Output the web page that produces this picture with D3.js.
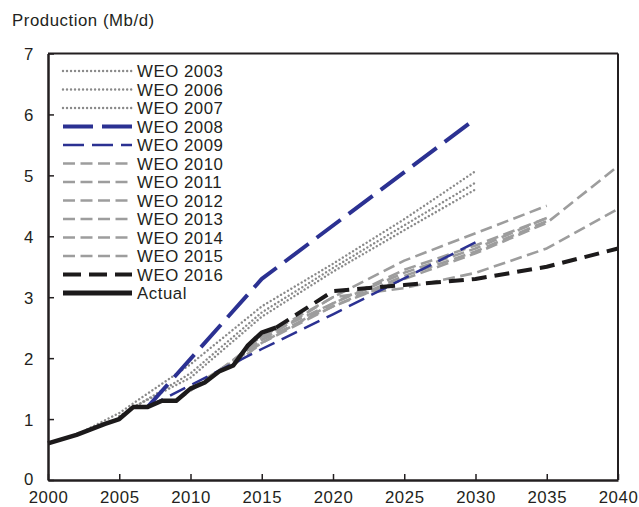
<!DOCTYPE html>
<html><head><meta charset="utf-8">
<script src="https://cdn.jsdelivr.net/npm/d3@7"></script>
<style>
body{margin:0;background:#fff;}
text{font-family:"Liberation Sans",Arial,sans-serif;font-size:16.8px;letter-spacing:0.55px;fill:#231f20;}
</style></head>
<body><svg id="c" width="639" height="507"></svg>
<script>
const xTicks = [2000,2005,2010,2015,2020,2025,2030,2035,2040];
const yTicks = [0,1,2,3,4,5,6,7];
const seriesNames = ["WEO 2003","WEO 2006","WEO 2007","WEO 2008","WEO 2009","WEO 2010","WEO 2011","WEO 2012","WEO 2013","WEO 2014","WEO 2015","WEO 2016","Actual"];
const actual = [[2000,0.6],[2001,0.67],[2002,0.74],[2003,0.83],[2004,0.92],[2005,1.0],[2006,1.2],[2007,1.2],[2008,1.3],[2009,1.3],[2010,1.5],[2011,1.6],[2012,1.78],[2013,1.88],[2014,2.2],[2015,2.42],[2016,2.5]];
const weo2003 = [[2002,0.74],[2005,1.1],[2010,1.9],[2015,2.85],[2020,3.55],[2025,4.28],[2030,5.07]];
const weo2006 = [[2005,1.05],[2010,1.75],[2015,2.75],[2020,3.48],[2025,4.18],[2030,4.88]];
const weo2007 = [[2006,1.2],[2010,1.68],[2015,2.68],[2020,3.42],[2025,4.1],[2030,4.77]];
const weo2008 = [[2007,1.2],[2015,3.3],[2030,5.93]];
const weo2009 = [[2007,1.2],[2015,2.15],[2020,2.72],[2030,3.9]];
const weo2010 = [[2009,1.3],[2015,2.3],[2020,3.0],[2025,3.6],[2030,4.05],[2035,4.5]];
const weo2011 = [[2010,1.5],[2015,2.25],[2020,2.9],[2025,3.45],[2030,3.85],[2035,4.3]];
const weo2012 = [[2011,1.6],[2015,2.3],[2020,2.85],[2025,3.35],[2030,3.75],[2035,4.25]];
const weo2013 = [[2012,1.78],[2015,2.35],[2020,2.9],[2025,3.4],[2030,3.8],[2035,4.3]];
const weo2014 = [[2013,1.88],[2015,2.25],[2020,2.85],[2025,3.3],[2030,3.72],[2035,4.22],[2040,5.15]];
const weo2015 = [[2014,2.2],[2015,2.35],[2020,3.0],[2025,3.15],[2030,3.4],[2035,3.8],[2040,4.45]];
const weo2016 = [[2016,2.5],[2020,3.1],[2025,3.2],[2030,3.3],[2035,3.5],[2040,3.8]];
const seriesData = [weo2003,weo2006,weo2007,weo2008,weo2009,weo2010,weo2011,weo2012,weo2013,weo2014,weo2015,weo2016,actual];

const BLUE="#2b3192", GRAY="#9d9d9d", DOT="#8a8a8a", BLACK="#1c1a1b";
const styles = [
 {c:DOT,w:2.4,d:"0.01,4",cap:"round"},
 {c:DOT,w:2.4,d:"0.01,4",cap:"round"},
 {c:DOT,w:2.4,d:"0.01,4",cap:"round"},
 {c:BLUE,w:4,d:"30,10",ld:"30,9"},
 {c:BLUE,w:2.5,d:"17,8",ld:"21,8"},
 {c:GRAY,w:2.6,d:"12,5.5"},
 {c:GRAY,w:2.6,d:"12,5.5"},
 {c:GRAY,w:2.6,d:"12,5.5"},
 {c:GRAY,w:2.6,d:"12,5.5"},
 {c:GRAY,w:2.6,d:"12,5.5"},
 {c:GRAY,w:2.6,d:"12,5.5"},
 {c:BLACK,w:4,d:"15,8",ld:"18,8"},
 {c:BLACK,w:4.5,d:null}
];

const svg = d3.select("#c");
const x = d3.scaleLinear().domain([2000,2040]).range([48,618]);
const y = d3.scaleLinear().domain([0,7]).range([480,53.5]);
const line = d3.line().x(d=>x(d[0])).y(d=>y(d[1]));

svg.append("text").attr("x",12).attr("y",26).text("Production (Mb/d)");

const order = [0,1,2,5,6,7,8,9,10,4,3,11,12];
order.forEach(i=>{
  const s=styles[i];
  svg.append("path").attr("d",line(seriesData[i])).attr("fill","none")
    .attr("stroke",s.c).attr("stroke-width",s.w)
    .attr("stroke-dasharray",s.d).attr("stroke-linecap",s.cap||"butt")
    .attr("stroke-linejoin","round");
});

const fr = svg.append("g").attr("stroke","#231f20").attr("fill","none");
fr.append("line").attr("x1",x(2000)).attr("x2",x(2040)).attr("y1",y(7)).attr("y2",y(7)).attr("stroke-width",2);
fr.append("line").attr("x1",x(2040)).attr("x2",x(2040)).attr("y1",y(7)).attr("y2",y(0)).attr("stroke-width",2);

const xa = svg.append("g").attr("transform",`translate(0,${y(0)})`)
  .call(d3.axisBottom(x).tickValues(xTicks).tickFormat(d3.format("d")).tickSizeInner(-6).tickSizeOuter(0).tickPadding(11));
const ya = svg.append("g").attr("transform",`translate(${x(2000)},0)`)
  .call(d3.axisLeft(y).tickValues(yTicks).tickFormat(d3.format("d")).tickSizeInner(-6).tickSizeOuter(0));
[xa,ya].forEach(a=>{
  a.select(".domain").attr("stroke","#231f20").attr("stroke-width",2.5);
  a.selectAll(".tick line").attr("stroke","#231f20").attr("stroke-width",1.5);
  a.selectAll("text").attr("font-family",null).attr("font-size",null).attr("fill","#231f20");
});
xa.selectAll("text").attr("dy","0.71em");
ya.selectAll("text").attr("dy",d=>d===0?"0.28em":"0.36em").attr("x",-14);

const lg = svg.append("g");
seriesNames.forEach((n,i)=>{
  const s=styles[i];
  const yy=71+i*18.5;
  lg.append("line").attr("x1",63).attr("x2",132).attr("y1",yy).attr("y2",yy)
    .attr("stroke",s.c).attr("stroke-width",i===12?5:s.w)
    .attr("stroke-dasharray",s.ld||s.d).attr("stroke-linecap",s.cap||"butt");
  lg.append("text").attr("x",137).attr("y",yy).attr("dy","0.36em").text(n);
});
</script></body></html>
